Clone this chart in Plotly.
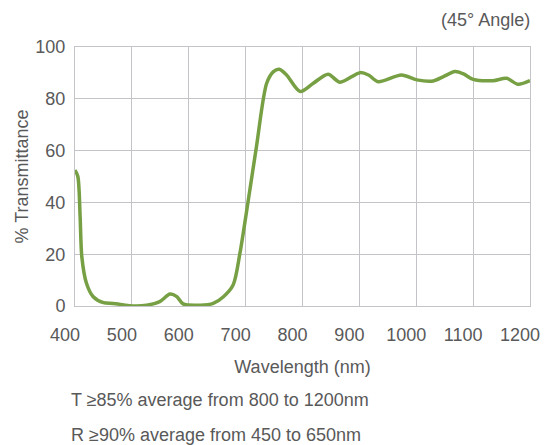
import plotly.graph_objects as go

wavelength = [400, 405, 409, 412, 420, 432, 450, 467, 505, 526, 549, 567, 579, 590, 620, 643, 661, 678,
              690, 702, 719, 737, 749, 759, 772, 796, 819, 845, 866, 901, 916, 933, 974, 1001, 1030,
              1047, 1068, 1083, 1100, 1135, 1159, 1179, 1200]
transmittance = [52.5, 50, 34.5, 19, 8.9, 3.6, 1.3, 1.0, 0, 0.3, 1.7, 4.6, 3.6, 0.8, 0.3, 1, 3.6, 8.1,
                 20.4, 37, 61.5, 86, 90.5, 91.4, 89.2, 82.8, 86, 89.5, 86.4, 90.1, 89.2, 86.6, 89.2, 87.3, 86.9,
                 88.5, 90.5, 89.6, 87.5, 87, 87.9, 85.6, 87]
x_ticks = [400, 500, 600, 700, 800, 900, 1000, 1100, 1200]
y_ticks = [0, 20, 40, 60, 80, 100]

txt = "#595959"
font = "Liberation Sans, Arial, sans-serif"
fs = 18

fig = go.Figure()
fig.add_trace(go.Scatter(x=wavelength, y=transmittance, mode="lines",
                         line=dict(color="#76a043", width=3.5, shape="spline", smoothing=0.8),
                         showlegend=False, hoverinfo="skip", cliponaxis=False))

fig.update_layout(
    width=545, height=445,
    margin=dict(l=75, r=15, t=47, b=139, autoexpand=False),
    paper_bgcolor="white", plot_bgcolor="white",
    font=dict(family=font, color=txt, size=fs),
    xaxis=dict(range=[400, 1200], tickvals=x_ticks, showgrid=True, gridcolor="#c4c4c8", gridwidth=1,
               zeroline=False, showline=True, linecolor="#c4c4c8", mirror=True,
               tickfont=dict(size=fs, color=txt), ticklabelstandoff=12, ticklabelshift=-10,
               ticklabeloverflow="allow",
               title=dict(text="Wavelength (nm)", font=dict(size=fs, color=txt), standoff=16)),
    yaxis=dict(range=[0, 100], tickvals=y_ticks, showgrid=True, gridcolor="#c4c4c8", gridwidth=1,
               zeroline=False, showline=True, linecolor="#c4c4c8", mirror=True,
               tickfont=dict(size=fs, color=txt), ticklabelstandoff=5,
               title=dict(text="% Transmittance", font=dict(size=fs, color=txt), standoff=2)),
    annotations=[
        dict(text="(45° Angle)", xref="paper", yref="paper", x=1.0, y=1.0, xanchor="right", yanchor="middle",
             xshift=2, yshift=27, showarrow=False, font=dict(size=fs, color=txt)),
        dict(text="T ≥85% average from 800 to 1200nm", xref="paper", yref="paper", x=0, y=0,
             xanchor="left", yanchor="middle", xshift=-6, yshift=-94, showarrow=False,
             font=dict(size=fs, color=txt)),
        dict(text="R ≥90% average from 450 to 650nm", xref="paper", yref="paper", x=0, y=0,
             xanchor="left", yanchor="middle", xshift=-6, yshift=-129, showarrow=False,
             font=dict(size=fs, color=txt)),
    ],
)

fig.write_html("out.html", config={"displayModeBar": False},
               post_script="document.body.style.margin='0';document.body.style.overflow='hidden';")
